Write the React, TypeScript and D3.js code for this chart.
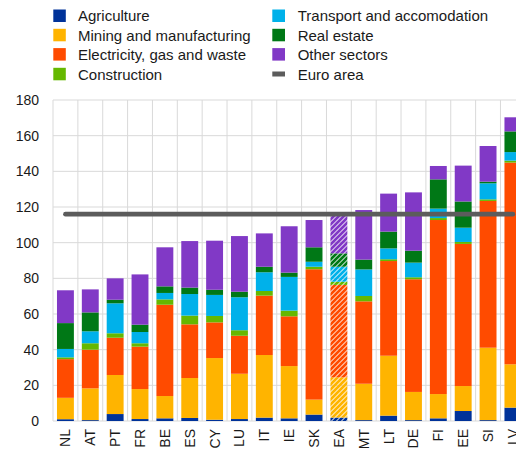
import React from "react";
import * as d3 from "d3";

const countries = ["NL","AT","PT","FR","BE","ES","CY","LU","IT","IE","SK","EA","MT","LT","DE","FI","EE","SI","LV"];
const agriculture = [1.0,0.5,3.9,1.1,1.5,1.7,0.7,1.1,1.9,1.5,3.6,1.9,0.5,3.0,0.5,1.5,5.6,0.5,7.5];
const mining = [12.0,17.8,21.9,16.8,12.5,22.4,34.6,25.4,35.1,29.3,8.4,22.6,20.4,33.6,15.8,13.6,14.0,40.6,24.3];
const electricity = [21.7,21.7,20.9,23.8,51.2,30.1,20.0,21.3,33.3,27.9,73.1,51.8,46.2,53.1,63.2,97.6,79.7,82.3,113.1];
const construction = [1.0,3.6,2.5,1.9,3.0,4.9,3.6,3.1,2.6,3.2,1.4,1.8,3.0,1.0,1.1,1.1,1.1,0.9,1.1];
const transport = [4.7,6.7,16.8,6.3,3.6,12.1,11.8,18.5,10.5,18.9,2.8,8.4,14.9,6.1,8.2,5.3,8.0,9.0,4.8];
const realEstate = [14.5,10.6,2.0,4.1,3.7,3.6,2.9,3.1,3.1,2.4,8.1,7.5,5.5,9.4,6.7,16.4,14.7,0.9,11.6];
const otherSectors = [18.4,12.9,12.0,28.2,21.9,26.1,27.5,31.2,18.7,26.0,15.3,22.0,27.8,21.3,32.7,7.5,20.1,20.0,7.9];
const euroArea = 116;
const hatchedCountry = "EA";
const yTicks = [0,20,40,60,80,100,120,140,160,180];

const seriesNames = ["Agriculture","Mining and manufacturing","Electricity, gas and waste","Construction","Transport and accomodation","Real estate","Other sectors"];
const seriesValues = [agriculture, mining, electricity, construction, transport, realEstate, otherSectors];
const colors = ["#003299","#ffb400","#ff4b00","#65b800","#00b1ea","#007816","#8139c6"];
const lineColor = "#5c5c5c";

const font = "'Liberation Sans', Arial, sans-serif";

export default function App() {
  const W = 516, H = 451;
  const left = 53, top = 100, bottom = 421;
  const step = 24.86;
  const right = left + countries.length * step;
  const x = d3.scaleBand<string>().domain(countries).range([left, right]).paddingInner(0.32).paddingOuter(0.16);
  const y = d3.scaleLinear().domain([0, 180]).range([bottom, top]);

  const rows = countries.map((c, i) => {
    const r: any = { country: c };
    seriesNames.forEach((s, k) => (r[s] = seriesValues[k][i]));
    return r;
  });
  const stacked = d3.stack().keys(seriesNames)(rows);

  const legendLeft = [
    { name: seriesNames[0], color: colors[0] },
    { name: seriesNames[1], color: colors[1] },
    { name: seriesNames[2], color: colors[2] },
    { name: seriesNames[3], color: colors[3] },
  ];
  const legendRight = [
    { name: seriesNames[4], color: colors[4], line: false },
    { name: seriesNames[5], color: colors[5], line: false },
    { name: seriesNames[6], color: colors[6], line: false },
    { name: "Euro area", color: lineColor, line: true },
  ];
  const rowY = [15.7, 35, 54.3, 74];
  const bw = x.bandwidth();
  const first = countries[0], last = countries[countries.length - 1];

  return (
    <div style={{ position: "absolute", left: 0, top: 0 }}>
      <svg width={W} height={H} style={{ display: "block", background: "#fff" }}>
        <defs>
          {colors.map((c, k) => (
            <pattern key={k} id={`hatch${k}`} patternUnits="userSpaceOnUse" width={5} height={5}>
              <path d="M-1,1 L1,-1 M0,5 L5,0 M4,6 L6,4" stroke={c} strokeWidth={2.8} />
            </pattern>
          ))}
        </defs>
        {yTicks.map((t) => (
          <line key={t} x1={left} x2={right} y1={y(t)} y2={y(t)} stroke="#d9d9d9" strokeWidth={1} />
        ))}
        {d3.range(countries.length + 1).map((i) => (
          <line key={i} x1={left + i * step} x2={left + i * step} y1={top} y2={bottom} stroke="#d9d9d9" strokeWidth={1} />
        ))}
        {stacked.map((layer, k) => (
          <g key={k}>
            {layer.map((d: any, i: number) => {
              const c = countries[i];
              const hatched = c === hatchedCountry;
              return (
                <rect
                  key={c}
                  x={x(c)}
                  y={y(d[1])}
                  width={bw}
                  height={Math.max(0, y(d[0]) - y(d[1]))}
                  fill={hatched ? `url(#hatch${k})` : colors[k]}
                />
              );
            })}
          </g>
        ))}
        <line
          x1={(x(first) as number) + bw / 2}
          x2={(x(last) as number) + bw / 2}
          y1={y(euroArea)}
          y2={y(euroArea)}
          stroke={lineColor}
          strokeWidth={4.6}
          strokeLinecap="round"
        />
        {yTicks.map((t) => (
          <text key={t} x={39} y={y(t)} textAnchor="end" dominantBaseline="central" fontFamily={font} fontSize={14} fill="#1a1a1a">
            {t}
          </text>
        ))}
        {countries.map((c) => {
          const cx = (x(c) as number) + bw / 2;
          return (
            <text key={c} transform={`translate(${cx},429) rotate(-90)`} textAnchor="end" dominantBaseline="central" fontFamily={font} fontSize={14} fill="#1a1a1a">
              {c}
            </text>
          );
        })}
        {legendLeft.map((l, i) => (
          <g key={l.name}>
            <rect x={53.3} y={rowY[i] - 6.2} width={12.5} height={12.5} fill={l.color} />
            <text x={78} y={rowY[i]} dominantBaseline="central" fontFamily={font} fontSize={15} fill="#1a1a1a">{l.name}</text>
          </g>
        ))}
        {legendRight.map((l, i) => (
          <g key={l.name}>
            {l.line ? (
              <rect x={272.3} y={rowY[i] - 2.5} width={12.7} height={5} fill={l.color} />
            ) : (
              <rect x={272.3} y={rowY[i] - 6.2} width={12.7} height={12.5} fill={l.color} />
            )}
            <text x={297.7} y={rowY[i]} dominantBaseline="central" fontFamily={font} fontSize={15} fill="#1a1a1a">{l.name}</text>
          </g>
        ))}
      </svg>
    </div>
  );
}
